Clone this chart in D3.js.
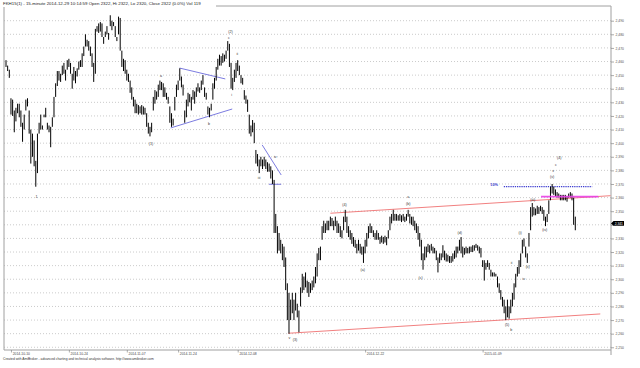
<!DOCTYPE html>
<html><head><meta charset="utf-8">
<script src="https://cdn.jsdelivr.net/npm/d3@7"></script>
<style>body{margin:0;background:#fff}svg{display:block;font-family:"Liberation Sans",Arial,sans-serif}</style>
</head><body>
<script>
// ---- DATA ----
const hi = [
2461,2457,2454,2433,2432,2424,2426,2429,2429,2424,
2415,2421,2432,2433,2424,2410,2407,2402,2387,2407,
2415,2421,2413,2421,2426,2415,2413,2412,2419,2434,
2444,2453,2453,2451,2457,2459,2454,2461,2462,2459,
2451,2456,2453,2455,2460,2461,2466,2471,2480,2476,
2475,2471,2466,2459,2484,2486,2488,2489,2488,2478,
2482,2486,2481,2494,2490,2489,2486,2478,2493,2492,
2468,2462,2461,2454,2451,2446,2441,2434,2432,2429,
2428,2427,2428,2427,2426,2422,2415,2412,2415,2434,
2439,2438,2443,2446,2445,2444,2441,2437,2434,2427,
2422,2418,2434,2443,2446,2455,2449,2443,2424,2432,
2437,2436,2434,2439,2438,2441,2444,2441,2446,2450,
2441,2437,
2427,2426,2429,2444,2448,2456,2462,2465,2464,2466,
2465,2468,2475,2473,2459,2448,2454,2459,2461,2457,
2450,2448,2439,2435,2432,2421,2413,2417,2415,2395,
2392,2388,2390,2388,2390,2388,2386,2385,2383,2380,
2373,2348,2339,2334,2329,2326,2324,2316,2297,2290,
2285,2290,2285,2290,2282,2277,2294,2304,2302,2305,
2299,2298,2297,2299,2302,2309,2319,2323,2324,2339,
2343,2341,2343,2343,2346,2345,2343,2346,2343,2341,
2339,2336,2346,2351,2346,2339,2336,2334,2331,2329,
2326,2329,2326,2324,2324,2329,2334,2339,2341,2339,
2336,2334,2336,2334,2331,2332,2331,2332,2331,2336,
2346,2348,2351,2348,2348,2347,2348,2347,2348,2346,
2348,2351,2348,2346,
2346,2343,2341,2339,2334,2329,2319,2324,2324,2326,
2325,2326,2324,2323,2321,2316,2319,2319,2325,2321,
2319,2318,2317,2317,2319,2321,2324,2324,2329,2331,
2324,2323,2324,2323,2324,2324,2325,2325,2326,2325,
2324,2323,2314,2314,2312,2314,2312,2307,2305,2305,
2304,2302,2297,2292,2287,2285,2280,2285,2280,2285,
2290,2297,2304,2309,2314,2319,2329,2330,2324,2319,
2334,2353,2356,2353,2352,2354,2353,2354,2353,2351,
2346,2348,2358,2368,2370,2368,2366,2364,2363,2362,
2362,2362,2362,2361,2363,2364,2363,2360,2346
];
const lo = [
2456,2453,2448,2421,2420,2408,2416,2422,2419,2412,
2401,2410,2424,2427,2407,2385,2390,2383,2368,2378,
2407,2410,2410,2419,2419,2410,2408,2397,2412,2419,
2434,2442,2446,2445,2450,2451,2446,2454,2456,2451,
2440,2446,2444,2449,2454,2456,2456,2464,2471,2471,
2468,2464,2456,2445,2451,2482,2481,2482,2478,2473,
2478,2480,2476,2486,2483,2486,2478,2475,2480,2468,
2456,2453,2451,2446,2445,2437,2432,2427,2422,2422,
2421,2422,2421,2421,2421,2412,2407,2405,2408,2424,
2429,2432,2434,2439,2439,2434,2434,2432,2429,2415,
2412,2413,2424,2434,2439,2446,2441,2435,2415,2419,
2427,2430,2424,2432,2429,2434,2438,2437,2439,2443,
2434,2432,
2421,2419,2424,2432,2440,2446,2454,2457,2457,2459,
2460,2462,2468,2456,2440,2439,2445,2448,2453,2450,
2444,2443,2432,2429,2423,2407,2405,2408,2400,2385,
2383,2378,2383,2381,2383,2381,2379,2379,2374,2370,
2334,2334,2319,2321,2319,2314,2309,2292,2270,2260,
2270,2275,2270,2277,2272,2261,2280,2290,2292,2294,
2290,2287,2290,2292,2294,2297,2302,2314,2314,2329,
2334,2334,2336,2336,2339,2339,2336,2339,2334,2334,
2331,2330,2336,2342,2334,2331,2329,2326,2324,2323,
2319,2321,2319,2318,2312,2319,2324,2330,2334,2334,
2331,2329,2329,2329,2326,2327,2326,2327,2325,2330,
2336,2341,2343,2343,2343,2343,2343,2342,2343,2342,
2343,2346,2341,2340,
2339,2336,2334,2329,2324,2314,2307,2314,2316,2320,
2319,2321,2319,2319,2314,2305,2312,2314,2316,2314,
2313,2313,2312,2312,2313,2315,2316,2319,2321,2319,
2316,2318,2319,2319,2319,2320,2320,2321,2323,2321,
2319,2316,2309,2299,2307,2309,2307,2302,2302,2302,
2302,2294,2290,2285,2280,2275,2270,2272,2271,2275,
2280,2285,2294,2302,2304,2309,2319,2324,2316,2312,
2324,2336,2346,2347,2347,2348,2348,2350,2348,2343,
2339,2342,2348,2358,2363,2362,2361,2360,2360,2358,
2358,2358,2358,2357,2360,2360,2358,2340,2336
];
const lastClose = 2341;
const dateTickBars = [3, 38, 73, 104, 140, 217, 288];
const dateTickLabels = ["2014-10-10","2014-10-24","2014-11-07","2014-11-24","2014-12-08","2014-12-22","2015-01-09"];
const priceTicks = d3.range(2250, 2491, 10);
const waveLabels = [
  {t:"1", b:18.5, p:2360.5}, {t:"(1)", b:87.6, p:2399.4}, {t:"a", b:93.7, p:2449.4},
  {t:"b", b:122.6, p:2414.1}, {t:"(2)", b:135.7, p:2481.7}, {t:"c", b:134.7, p:2477.8},
  {t:"i", b:136.3, p:2435.4}, {t:"ii", b:139.7, p:2465.5}, {t:"iii", b:152.9, p:2374.4},
  {t:"iv", b:162.7, p:2390}, {t:"v", b:171.2, p:2256.9}, {t:"(3)", b:174.6, p:2255.4},
  {t:"(4)", b:204.5, p:2354.6}, {t:"(a)", b:215.6, p:2306.8}, {t:"a", b:243, p:2360.5},
  {t:"(b)", b:243, p:2355.7}, {t:"(c)", b:250.5, p:2301}, {t:"(d)", b:274.2, p:2334},
  {t:"(5)", b:302.8, p:2266.4}, {t:"b", b:305.3, p:2262.7}, {t:"ii", b:305.5, p:2311.8},
  {t:"iv", b:312.8, p:2300.7}, {t:"(i)", b:310.7, p:2334.5}, {t:"(ii)", b:315.2, p:2309.3},
  {t:"(iii)", b:318.3, p:2358.3}, {t:"(iv)", b:325.5, p:2336.2}, {t:"(v)", b:330, p:2375.4},
  {t:"v", b:330.6, p:2379.8}, {t:"c", b:332.3, p:2384.5}, {t:"(4)", b:334.3, p:2389.6}
];
const pctLabel = {t:"10%", b:292.6, p:2369.8};
const trendLines = [
  {k:"blue", b1:104.9, p1:2455.2, b2:132.5, p2:2447.2},
  {k:"blue", b1:99.5, p1:2411.2, b2:136.7, p2:2425.1},
  {k:"blue", b1:154.8, p1:2398.7, b2:166.3, p2:2376.6},
  {k:"blue", b1:158.9, p1:2369.8, b2:166.3, p2:2369.8},
  {k:"red", b1:196, p1:2348.5, b2:365.3, p2:2361.4},
  {k:"red", b1:170.6, p1:2260.3, b2:359.1, p2:2274.5},
  {k:"dot", b1:300.8, p1:2368, b2:354.2, p2:2368},
  {k:"mag", b1:323.3, p1:2360.7, b2:357.9, p2:2360.7}
];
const titleText = "FKH15(1) - 15-minute 2014-12-29 10:14:59 Open 2322, Hi 2322, Lo 2320, Close 2322 (0.0%) Vol 119";
const footerText = "Created with AmiBroker - advanced charting and technical analysis software. http://www.amibroker.com";

// ---- CHART ----
const W = 640, H = 368;
const L = 4, R = 611, T = 6, B = 350;
const svg = d3.select("body").append("svg").attr("width", W).attr("height", H);
const x = d3.scaleLinear().domain([0, hi.length - 1]).range([6, 575.3]);
const y = d3.scaleLinear().domain([2248, 2500.8]).range([B, T]);
const yc = y(lastClose);

// grid
svg.append("g").selectAll("line").data(priceTicks).join("line")
  .attr("x1", L).attr("x2", R).attr("y1", d => y(d)).attr("y2", d => y(d))
  .attr("stroke", "#b4b4b4").attr("stroke-width", 0.7).attr("stroke-dasharray", "1,2");

// frame
const frame = svg.append("g").attr("stroke", "#a0a0a0").attr("stroke-width", 1);
frame.append("line").attr("x1", L).attr("x2", L).attr("y1", T).attr("y2", B);
frame.append("line").attr("x1", L).attr("x2", R).attr("y1", T).attr("y2", T);
frame.append("line").attr("x1", L).attr("x2", R).attr("y1", B).attr("y2", B);
frame.append("line").attr("x1", R).attr("x2", R).attr("y1", T).attr("y2", 355);

// right axis (label hidden where the last-price tag sits)
const ya = svg.append("g").attr("transform", `translate(${R},0)`)
  .call(d3.axisRight(y).tickValues(priceTicks)
    .tickFormat(d => Math.abs(y(d) - yc) < 5 ? "" : d3.format(",")(d))
    .tickSize(3).tickPadding(1.5));
ya.select(".domain").remove();
ya.selectAll("line").attr("stroke", "#888").attr("stroke-width", 0.7);
ya.selectAll("text").attr("font-size", "3.4px").attr("fill", "#555").attr("font-family", "Liberation Sans, Arial");

// bottom date ticks
const xa = svg.append("g").attr("transform", `translate(0,${B})`)
  .call(d3.axisBottom(x).tickValues(dateTickBars).tickFormat((d, i) => dateTickLabels[i]).tickSize(2.5).tickPadding(1));
xa.select(".domain").remove();
xa.selectAll("line").attr("stroke", "#777").attr("stroke-width", 0.6);
xa.selectAll("text").attr("text-anchor", "start").attr("dx", "1.2").attr("font-size", "3.4px")
  .attr("fill", "#444").attr("font-family", "Liberation Sans, Arial").attr("dy", "0.3em");

// trend lines
const lineStyle = {
  blue: {c: "#5b5bd8", w: 0.8, d: null},
  red: {c: "#ef7272", w: 0.9, d: null},
  dot: {c: "#3f3fd0", w: 1.3, d: "1.3,0.9"},
  mag: {c: "#ea3fe6", w: 1.8, d: null}
};
svg.append("g").selectAll("line").data(trendLines.filter(d => d.k !== "mag")).join("line")
  .attr("x1", d => x(d.b1)).attr("y1", d => y(d.p1)).attr("x2", d => x(d.b2)).attr("y2", d => y(d.p2))
  .attr("stroke", d => lineStyle[d.k].c).attr("stroke-width", d => lineStyle[d.k].w)
  .attr("stroke-dasharray", d => lineStyle[d.k].d);

// bars
svg.append("g").selectAll("line").data(hi).join("line")
  .attr("x1", (d, i) => x(i)).attr("x2", (d, i) => x(i))
  .attr("y1", d => y(d)).attr("y2", (d, i) => y(lo[i]))
  .attr("stroke", "#000").attr("stroke-width", 1.0);

// magenta line on top
svg.append("g").selectAll("line").data(trendLines.filter(d => d.k === "mag")).join("line")
  .attr("x1", d => x(d.b1)).attr("y1", d => y(d.p1)).attr("x2", d => x(d.b2)).attr("y2", d => y(d.p2))
  .attr("stroke", d => lineStyle[d.k].c).attr("stroke-width", d => lineStyle[d.k].w).attr("opacity", 0.9);

// wave labels
svg.append("g").selectAll("text").data(waveLabels).join("text")
  .attr("x", d => x(d.b)).attr("y", d => y(d.p)).attr("dy", "0.35em")
  .attr("text-anchor", "middle").attr("font-size", "3.6px").attr("fill", "#333").text(d => d.t);
svg.append("text").attr("x", x(pctLabel.b)).attr("y", y(pctLabel.p)).attr("dy", "0.35em")
  .attr("font-size", "3.9px").attr("font-weight", "bold").attr("fill", "#3a3acc").text(pctLabel.t);

// last price tag
svg.append("path").attr("d", `M${R},${yc} L${R + 2.5},${yc - 2.4} L${R + 13},${yc - 2.4} L${R + 13},${yc + 2.4} L${R + 2.5},${yc + 2.4} Z`)
  .attr("fill", "#000");
svg.append("text").attr("x", R + 7.8).attr("y", yc).attr("dy", "0.35em").attr("text-anchor", "middle")
  .attr("font-size", "3.3px").attr("fill", "#fff").text(d3.format(",")(lastClose));

// title and footer
svg.append("rect").attr("x", 0).attr("y", 0).attr("width", 216).attr("height", 7).attr("fill", "#fff");
svg.append("text").attr("x", 3).attr("y", 5.4).attr("font-size", "4.4px").attr("fill", "#222").text(titleText);
svg.append("text").attr("x", 3).attr("y", 359.5).attr("font-size", "3.3px").attr("fill", "#333").text(footerText);
</script>
</body></html>
